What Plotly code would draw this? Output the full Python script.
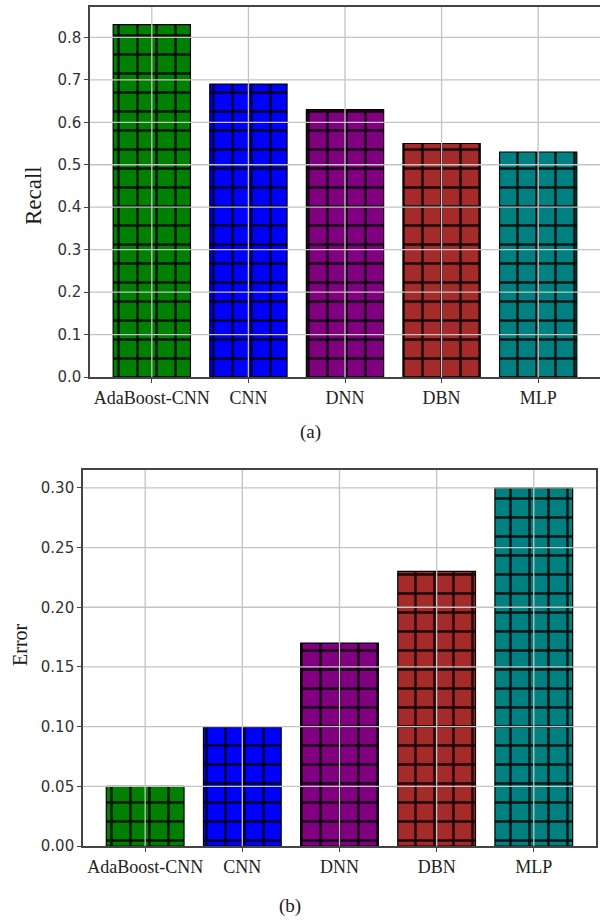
import plotly.graph_objects as go

models = ["AdaBoost-CNN", "CNN", "DNN", "DBN", "MLP"]
recall = [0.83, 0.69, 0.63, 0.55, 0.53]
error = [0.05, 0.10, 0.17, 0.23, 0.30]
bar_colors = ["#008000", "#0000ff", "#800080", "#a52a2a", "#008080"]
recall_ticks = [0.0, 0.1, 0.2, 0.3, 0.4, 0.5, 0.6, 0.7, 0.8]
error_ticks = [0.00, 0.05, 0.10, 0.15, 0.20, 0.25, 0.30]

AX = "#444444"
GRID = "#c4c4c4"
tick_font = dict(family="DejaVu Sans", size=15, color="#333333")
cat_font = dict(family="Liberation Serif", size=18, color="#222222")

fig = go.Figure()

def add_bars(values, xa, ya):
    for m, v, c in zip(models, values, bar_colors):
        fig.add_trace(go.Bar(
            x=[m], y=[v], xaxis=xa, yaxis=ya, width=0.8,
            marker=dict(color=c, line=dict(color="black", width=1.2),
                        pattern=dict(shape="+", fgcolor="black", bgcolor=c,
                                     fgopacity=0.85, size=19, solidity=0.24, fillmode="replace")),
            showlegend=False, hoverinfo="x+y"))

add_bars(recall, "x", "y")
add_bars(error, "x2", "y2")

common_x = dict(type="category", categoryarray=models, range=[-0.64, 4.64], showgrid=False,
                zeroline=False, showline=True, linecolor=AX, linewidth=1.5, mirror=True,
                automargin=False, ticks="outside", ticklen=4, tickcolor=AX, tickfont=cat_font)
common_y = dict(showgrid=False, zeroline=False, showline=True, linecolor=AX, linewidth=1.5,
                automargin=False, ticks="outside", ticklen=4, tickcolor=AX, tickfont=tick_font)

fig.update_layout(
    width=600, height=923, margin=dict(l=0, r=0, t=0, b=0, autoexpand=False),
    paper_bgcolor="white", plot_bgcolor="white", barmode="overlay",
    xaxis=dict(common_x, domain=[0.15, 1.0], anchor="y"),
    yaxis=dict(common_y, domain=[0.5915, 0.9924], range=[0, 0.8715], anchor="x",
               tickvals=recall_ticks, ticktext=[f"{v:.1f}" for v in recall_ticks], mirror=False),
    xaxis2=dict(common_x, domain=[0.1383, 0.9933], anchor="y2"),
    yaxis2=dict(common_y, domain=[0.0834, 0.4908], range=[0, 0.315], anchor="x2",
                tickvals=error_ticks, ticktext=[f"{v:.2f}" for v in error_ticks], mirror=True),
)

# gridlines drawn above the bars, as in the reference
shapes = []
for xr, yr, ticks in [("x", "y", recall_ticks), ("x2", "y2", error_ticks)]:
    for t in ticks[1:]:
        shapes.append(dict(type="line", xref=f"{xr} domain", yref=yr, x0=0, x1=1, y0=t, y1=t,
                           line=dict(color=GRID, width=1.3), layer="above"))
    for m in models:
        shapes.append(dict(type="line", xref=xr, yref=f"{yr} domain", x0=m, x1=m, y0=0, y1=1,
                           line=dict(color=GRID, width=1.3), layer="above"))
fig.update_layout(shapes=shapes)

def label(text, x, y, size, angle=0):
    fig.add_annotation(text=text, xref="paper", yref="paper", x=x / 600, y=1 - y / 923,
                       xanchor="center", yanchor="middle", textangle=angle, showarrow=False,
                       font=dict(family="Liberation Serif", size=size, color="#1a1a1a"))

label("Recall", 33, 196, 23, -90)
label("Error", 20, 645, 20, -90)
label("(a)", 310, 432, 19)
label("(b)", 290, 906, 19)

fig.write_html("out.html", config={"displayModeBar": False},
               post_script="document.body.style.margin='0';document.body.style.overflow='hidden';")
